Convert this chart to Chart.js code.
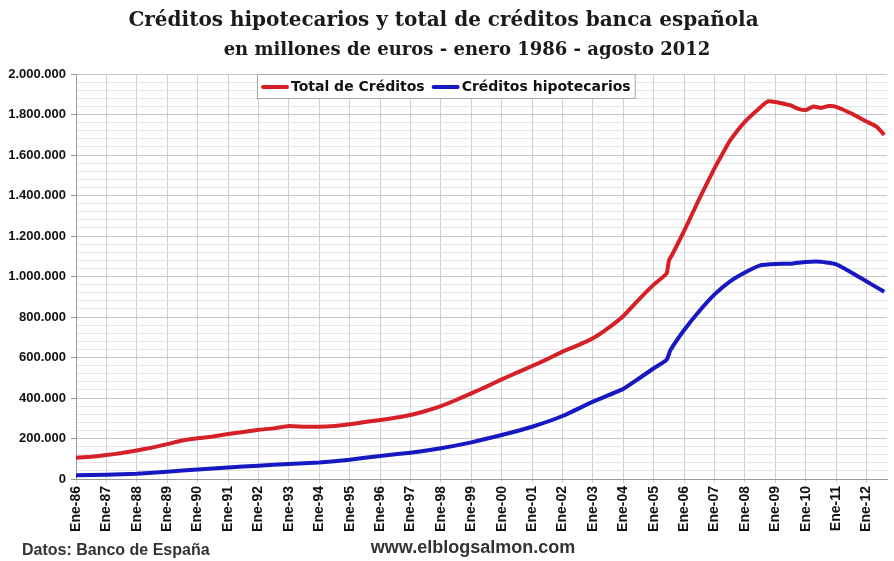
<!DOCTYPE html>
<html>
<head>
<meta charset="utf-8">
<script src="https://cdn.jsdelivr.net/npm/chart.js@4"></script>
<style>
  html, body { margin: 0; padding: 0; background: #fff; }
</style>
</head>
<body>
<canvas id="grafico" width="894" height="561"></canvas>
<script>
// Total de créditos (millones de euros), fechas en años decimales
const fechasTotal = [
  1986.0, 1986.5, 1987.0, 1987.5, 1988.0, 1988.5, 1989.0, 1989.5, 1990.0, 1990.5,
  1991.0, 1991.5, 1992.0, 1992.5, 1993.0, 1993.5, 1994.0, 1994.5, 1995.0, 1995.5,
  1996.0, 1996.5, 1997.0, 1997.5, 1998.0, 1998.5, 1999.0, 1999.5, 2000.0, 2000.5,
  2001.0, 2001.5, 2002.0, 2002.5, 2003.0, 2003.5, 2004.0, 2004.5, 2005.0, 2005.42,
  2005.5, 2005.6, 2006.0, 2006.5, 2007.0, 2007.33, 2007.5, 2008.0, 2008.5, 2008.75,
  2009.0, 2009.5, 2009.75, 2010.0, 2010.25, 2010.5, 2010.75, 2011.0, 2011.5, 2012.0,
  2012.33, 2012.58
];
const totalCreditos = [
  105000, 110000, 118000, 128000, 141000, 155000, 172000, 190000, 201000, 210000,
  222000, 232000, 243000, 250000, 262000, 258000, 258000, 262000, 270000, 281000,
  291000, 302000, 316000, 336000, 360000, 390000, 423000, 456000, 492000, 525000,
  558000, 592000, 629000, 660000, 695000, 745000, 805000, 885000, 960000, 1015000,
  1080000, 1106000, 1225000, 1385000, 1535000, 1625000, 1670000, 1765000, 1835000, 1865000,
  1862000, 1845000, 1828000, 1822000, 1840000, 1832000, 1842000, 1838000, 1805000, 1765000,
  1740000, 1699000
];

// Créditos hipotecarios
const fechasHipotecarios = [
  1986.0, 1987.0, 1988.0, 1989.0, 1990.0, 1991.0, 1992.0, 1993.0, 1994.0, 1995.0,
  1996.0, 1997.0, 1998.0, 1999.0, 2000.0, 2001.0, 2002.0, 2003.0, 2004.0, 2004.5,
  2005.0, 2005.42, 2005.55, 2006.0, 2006.5, 2007.0, 2007.5, 2008.0, 2008.5, 2009.0,
  2009.5, 2010.0, 2010.5, 2011.0, 2011.5, 2012.0, 2012.58
];
const creditosHipotecarios = [
  18000, 21000, 26000, 36000, 47000, 57000, 66000, 74000, 82000, 95000,
  114000, 130000, 152000, 181000, 217000, 258000, 311000, 382000, 445000, 495000,
  547000, 588000, 637000, 736000, 830000, 912000, 975000, 1020000, 1055000, 1062000,
  1063000, 1072000, 1073000, 1060000, 1020000, 975000, 925000
];

const etiquetasX = [
  "Ene-86", "Ene-87", "Ene-88", "Ene-89", "Ene-90", "Ene-91", "Ene-92", "Ene-93", "Ene-94",
  "Ene-95", "Ene-96", "Ene-97", "Ene-98", "Ene-99", "Ene-00", "Ene-01", "Ene-02", "Ene-03",
  "Ene-04", "Ene-05", "Ene-06", "Ene-07", "Ene-08", "Ene-09", "Ene-10", "Ene-11", "Ene-12"
];

const titulo = "Créditos hipotecarios y total de créditos banca española";
const subtitulo = "en millones de euros - enero 1986 - agosto 2012";
const textoFuente = "Datos: Banco de España";
const textoWeb = "www.elblogsalmon.com";

function puntos(xs, ys) {
  return xs.map((x, i) => ({ x: x, y: ys[i] }));
}

function miles(v) {
  return String(v).replace(/\B(?=(\d{3})+(?!\d))/g, ".");
}

// leyenda dibujada dentro del área del gráfico
const leyendaInterna = {
  id: "leyendaInterna",
  afterDraw(chart) {
    const c = chart.ctx;
    const area = chart.chartArea;
    c.save();
    c.font = "bold 14px 'DejaVu Sans'";
    const items = chart.data.datasets.map(d => ({
      text: d.label, color: d.borderColor, w: c.measureText(d.label).width
    }));
    const muestra = 27;
    let ancho = 4;
    items.forEach((it, i) => { ancho += muestra + 3 + it.w + (i < items.length - 1 ? 7 : 4); });
    const x0 = area.left + 181;
    const y0 = area.top;
    const alto = 24;
    c.fillStyle = "#fff";
    c.fillRect(x0, y0, ancho, alto);
    c.strokeStyle = "#a8a8a8";
    c.lineWidth = 1;
    c.strokeRect(x0 + 0.5, y0 + 0.5, ancho, alto);
    let x = x0 + 4;
    const ym = y0 + alto / 2 + 1;
    items.forEach(it => {
      c.strokeStyle = it.color;
      c.lineWidth = 4;
      c.lineCap = "round";
      c.beginPath();
      c.moveTo(x + 2, ym);
      c.lineTo(x + muestra - 1, ym);
      c.stroke();
      x += muestra + 3;
      c.fillStyle = "#111";
      c.textBaseline = "middle";
      c.fillText(it.text, x, ym);
      x += it.w + 7;
    });
    c.restore();
  }
};

// subtítulo y textos al pie
const textosExtra = {
  id: "textosExtra",
  afterDraw(chart) {
    const c = chart.ctx;
    c.save();
    c.fillStyle = "#1a1a1a";
    c.textAlign = "center";
    c.textBaseline = "alphabetic";
    c.font = "bold 18px 'DejaVu Serif'";
    c.fillText(subtitulo, 467, 55);

    c.fillStyle = "#333";
    c.textBaseline = "middle";
    c.font = "bold 16px 'Liberation Sans'";
    c.textAlign = "left";
    c.fillText(textoFuente, 22, 551);
    c.font = "bold 18px 'Liberation Sans'";
    c.textAlign = "center";
    c.fillText(textoWeb, 473, 548);
    c.restore();
  }
};

const config = {
  type: "line",
  data: {
    datasets: [
      {
        label: "Total de Créditos",
        data: puntos(fechasTotal, totalCreditos),
        borderColor: "#d62027",
        borderWidth: 4,
        pointRadius: 0,
        tension: 0.15
      },
      {
        label: "Créditos hipotecarios",
        data: puntos(fechasHipotecarios, creditosHipotecarios),
        borderColor: "#1818c2",
        borderWidth: 4,
        pointRadius: 0,
        tension: 0.15
      }
    ]
  },
  options: {
    responsive: false,
    animation: false,
    devicePixelRatio: 1,
    layout: { padding: { left: 0, right: 7, top: 0, bottom: 24 } },
    scales: {
      x: {
        type: "linear",
        min: 1986,
        max: 2012.67,
        afterBuildTicks: axis => {
          axis.ticks = etiquetasX.map((_, i) => ({ value: 1986 + i }));
        },
        afterFit: s => { s.height = 58; },
        ticks: {
          autoSkip: false,
          minRotation: 90,
          maxRotation: 90,
          padding: 3,
          color: "#111",
          font: { family: "Liberation Sans", weight: "bold", size: 14 },
          callback: v => etiquetasX[Math.round(v - 1986)]
        },
        grid: { color: "#cfcfcf", tickLength: 4 },
        border: { color: "#9a9a9a" }
      },
      y: {
        min: 0,
        max: 2000000,
        afterFit: s => { s.width = 76; },
        ticks: {
          stepSize: 40000,
          autoSkip: false,
          padding: 5,
          color: "#111",
          font: { family: "Liberation Sans", weight: "bold", size: 13 },
          callback: v => (v % 200000 === 0 ? miles(v) : "")
        },
        grid: {
          color: ctx => (ctx.tick && ctx.tick.value % 200000 === 0 ? "#c6c6c6" : "#e3e3e3"),
          tickColor: ctx => (ctx.tick && ctx.tick.value % 200000 === 0 ? "#9a9a9a" : "rgba(0,0,0,0)"),
          tickLength: 5
        },
        border: { color: "#9a9a9a" }
      }
    },
    plugins: {
      legend: { display: false },
      tooltip: { enabled: false },
      title: {
        display: true,
        text: titulo,
        color: "#1a1a1a",
        font: { family: "DejaVu Serif", weight: "bold", size: 20 },
        padding: { top: 9, bottom: 41 }
      }
    }
  },
  plugins: [leyendaInterna, textosExtra]
};

const chart = new Chart(document.getElementById("grafico"), config);
</script>
</body>
</html>
